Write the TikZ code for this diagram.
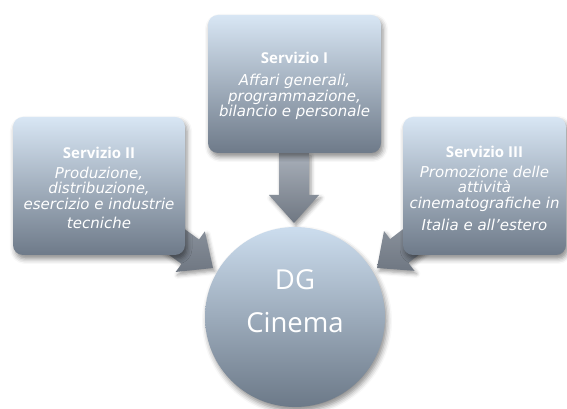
\documentclass[tikz,border=0pt]{standalone}
\usepackage{fontspec}
\setmainfont{Open Sans}
\newfontfamily\bodyfam{DejaVu Sans}
\usetikzlibrary{calc,shadows.blur}
\definecolor{boxtop}{HTML}{D8E6F4}
\definecolor{boxbot}{HTML}{6E7A89}
\definecolor{circtop}{HTML}{CCDDEE}
\definecolor{circbot}{HTML}{6C7988}
\definecolor{arrtop}{HTML}{A9B0BA}
\definecolor{arrbot}{HTML}{6F7782}
\newcommand\ttlf{\rmfamily\upshape\bfseries\fontsize{15}{13.8}\selectfont}
\newcommand\bdyf{\bodyfam\itshape\fontsize{15}{13.8}\selectfont}
\tikzset{
  svbox/.style={rounded corners=10pt, top color=boxtop, bottom color=boxbot, draw=none,
    text=white, align=center, inner sep=2pt,
    blur shadow={shadow xshift=2pt, shadow yshift=-4pt, shadow blur radius=5pt, shadow opacity=45}},
  dgcirc/.style={circle, top color=circtop, bottom color=circbot, draw=none, text=white,
    align=center, minimum size=180pt,
    blur shadow={shadow xshift=2pt, shadow yshift=-4pt, shadow blur radius=5pt, shadow opacity=45}},
  blockarr/.style={top color=arrtop, bottom color=arrbot, draw=none,
    blur shadow={shadow xshift=2pt, shadow yshift=-3pt, shadow blur radius=4pt, shadow opacity=40}},
  svtext/.style={text=white, align=center, inner sep=0pt, font=\bdyf}
}
\newcommand\blockarrow[2]{%
  \path[blockarr] (#2)
    -- ($($(#2)!28pt!(#1)$)!25pt!90:(#2)$)
    -- ($($(#2)!28pt!(#1)$)!15pt!90:(#2)$)
    -- ($(#1)!15pt!90:(#2)$)
    -- ($(#1)!15pt!-90:(#2)$)
    -- ($($(#2)!28pt!(#1)$)!15pt!-90:(#2)$)
    -- ($($(#2)!28pt!(#1)$)!25pt!-90:(#2)$)
    -- cycle;}
\begin{document}
\begin{tikzpicture}[x=1pt,y=1pt]
\useasboundingbox (0,0) rectangle (567,409);
% anchor coordinates
\coordinate (s1) at (294,256);
\coordinate (t1) at (294,186);
\coordinate (s2) at (99,223);
\coordinate (t2) at (213,141);
\coordinate (s3) at (484,223);
\coordinate (t3) at (377,141);
% arrows
\blockarrow{s1}{t1}
\blockarrow{s2}{t2}
\blockarrow{s3}{t3}
% circle
\node[dgcirc] (dg) at (295,92) {};
\node[text=white, font=\fontsize{27.5}{43}\selectfont, align=center] (dgt) at (295,108) {DG\\Cinema};
% boxes
\node[svbox, minimum width=173pt, minimum height=138pt] (b1) at (294.5,325) {};
\node[svtext] (b1t) at (294.5,323) {%
  {\ttlf Servizio I}\\[8pt]
  Affari generali,\\
  programmazione,\\
  bilancio e personale};
\node[svbox, minimum width=172pt, minimum height=138pt] (b2) at (99,223) {};
\node[svtext] (b2t) at (99,221) {%
  {\ttlf Servizio II}\\[6pt]
  Produzione,\\[1pt]
  distribuzione,\\[3pt]
  esercizio e industrie\\[5pt]
  tecniche};
\node[svbox, minimum width=163pt, minimum height=138pt] (b3) at (484.5,223) {};
\node[svtext] (b3t) at (484.5,221) {%
  {\ttlf Servizio III}\\[7pt]
  Promozione delle\\[1pt]
  attività\\[2pt]
  cinematografiche in\\[6pt]
  Italia e all’estero};
\end{tikzpicture}
\end{document}
